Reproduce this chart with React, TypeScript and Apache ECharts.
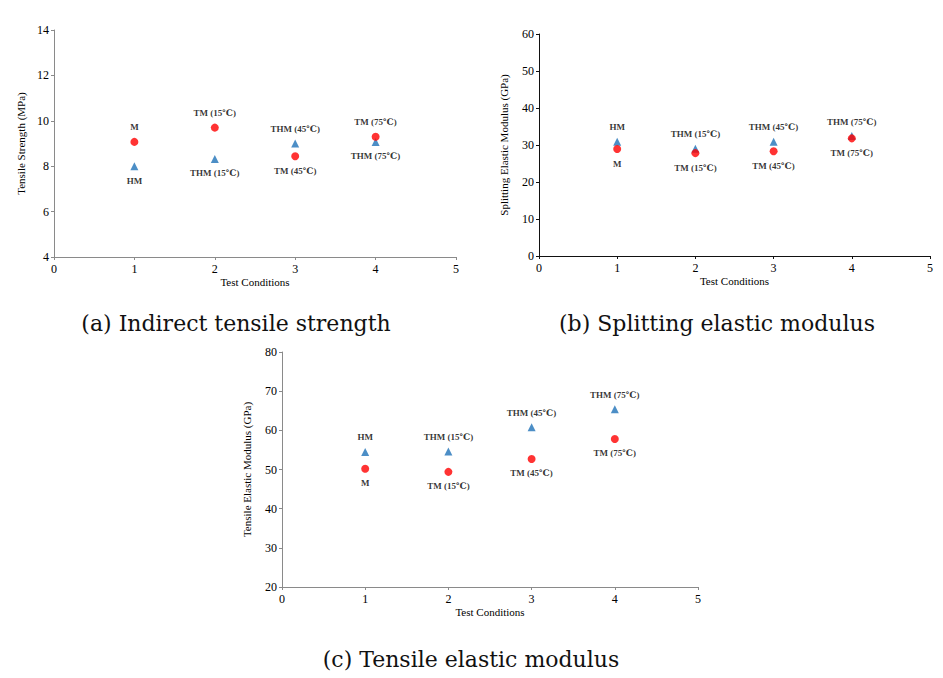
import React, { useEffect, useRef } from "react";
import * as echarts from "echarts";

const conditions = [1, 2, 3, 4];
const circleLabels = ["M", "TM (15℃)", "TM (45℃)", "TM (75℃)"];
const triangleLabels = ["HM", "THM (15℃)", "THM (45℃)", "THM (75℃)"];

const itsCircle = [9.07, 9.7, 8.44, 9.3];
const itsTriangle = [8.0, 8.32, 9.0, 9.07];
const semCircle = [28.9, 27.8, 28.3, 31.8];
const semTriangle = [30.85, 29.0, 30.9, 32.4];
const temCircle = [50.2, 49.4, 52.7, 57.8];
const temTriangle = [54.5, 54.6, 60.8, 65.4];

const captions = [
  "(a) Indirect tensile strength",
  "(b) Splitting elastic modulus",
  "(c) Tensile elastic modulus",
];
const yNames = [
  "Tensile Strength (MPa)",
  "Splitting Elastic Modulus (GPa)",
  "Tensile Elastic Modulus (GPa)",
];
const xName = "Test Conditions";
const yRanges = [
  [4, 14, 2],
  [0, 60, 10],
  [20, 80, 10],
];

const SERIF = "'Liberation Serif', 'DejaVu Serif', serif";
const CAPTION_FONT = "'DejaVu Serif', serif";

export default function App() {
  const ref = useRef<HTMLDivElement>(null);
  useEffect(() => {
    document.body.style.margin = "0";
    const chart = echarts.init(ref.current!, undefined, { renderer: "svg" });
    const grids = [
      { left: 54, top: 30, width: 402, height: 227 },
      { left: 539, top: 34, width: 391, height: 222 },
      { left: 282, top: 352, width: 416, height: 235 },
    ];
    const axisColors = ["#8a8a8a", "#111", "#8a8a8a"];
    // label positions per panel: per point
    const circlePos = [
      ["top", "top", "bottom", "top"],
      ["bottom", "bottom", "bottom", "bottom"],
      ["bottom", "bottom", "bottom", "bottom"],
    ];
    const trianglePos = [
      ["bottom", "bottom", "top", "bottom"],
      ["top", "top", "top", "top"],
      ["top", "top", "top", "top"],
    ];
    const circles = [itsCircle, semCircle, temCircle];
    const triangles = [itsTriangle, semTriangle, temTriangle];

    const xAxis = grids.map((_, i) => ({
      type: "value",
      gridIndex: i,
      min: 0,
      max: 5,
      interval: 1,
      name: xName,
      nameLocation: "middle",
      nameGap: 19,
      nameTextStyle: { fontFamily: SERIF, fontSize: 11, color: "#000" },
      axisLine: { show: true, lineStyle: { color: axisColors[i], width: 1 } },
      axisTick: { show: true, length: 3, lineStyle: { color: axisColors[i] } },
      axisLabel: { fontFamily: SERIF, fontSize: 12, color: "#000", margin: 6 },
      splitLine: { show: false },
    }));
    const yAxis = grids.map((_, i) => ({
      type: "value",
      gridIndex: i,
      min: yRanges[i][0],
      max: yRanges[i][1],
      interval: yRanges[i][2],
      name: yNames[i],
      nameLocation: "middle",
      nameGap: i === 0 ? 28 : 30,
      nameRotate: 90,
      nameTextStyle: { fontFamily: SERIF, fontSize: 11, color: "#000" },
      axisLine: { show: true, lineStyle: { color: axisColors[i], width: 1 } },
      axisTick: { show: true, length: 3, lineStyle: { color: axisColors[i] } },
      axisLabel: { fontFamily: SERIF, fontSize: 12, color: "#000", margin: 5 },
      splitLine: { show: false },
    }));

    const labelStyle = {
      show: true,
      fontFamily: SERIF,
      fontSize: 9,
      fontWeight: "bold",
      color: "#000",
      distance: 6,
    };

    const series: any[] = [];
    grids.forEach((_, i) => {
      series.push({
        type: "scatter",
        xAxisIndex: i,
        yAxisIndex: i,
        symbol: "circle",
        symbolSize: 8,
        itemStyle: { color: "#ff0000" },
        data: conditions.map((c, k) => ({
          value: [c, circles[i][k]],
          label: { ...labelStyle, position: circlePos[i][k], formatter: circleLabels[k] },
        })),
        z: 3,
      });
      series.push({
        type: "scatter",
        xAxisIndex: i,
        yAxisIndex: i,
        symbol: "triangle",
        symbolSize: 8,
        itemStyle: { color: "#1f72b8" },
        data: conditions.map((c, k) => ({
          value: [c, triangles[i][k]],
          label: { ...labelStyle, position: trianglePos[i][k], formatter: triangleLabels[k] },
        })),
        z: 2,
      });
    });

    const captionPos = [
      [236, 323],
      [717, 323],
      [471, 659],
    ];
    const graphic = captions.map((t, i) => ({
      type: "text",
      x: captionPos[i][0],
      y: captionPos[i][1],
      style: {
        text: t,
        fontFamily: CAPTION_FONT,
        fontSize: 22,
        fill: "#111",
        align: "center",
        verticalAlign: "middle",
      },
    }));

    chart.setOption({
      animation: false,
      backgroundColor: "#fff",
      grid: grids,
      xAxis,
      yAxis,
      series,
      graphic,
    });
    return () => chart.dispose();
  }, []);
  return (
    <div
      ref={ref}
      style={{ position: "fixed", left: 0, top: 0, width: 943, height: 678 }}
    />
  );
}
